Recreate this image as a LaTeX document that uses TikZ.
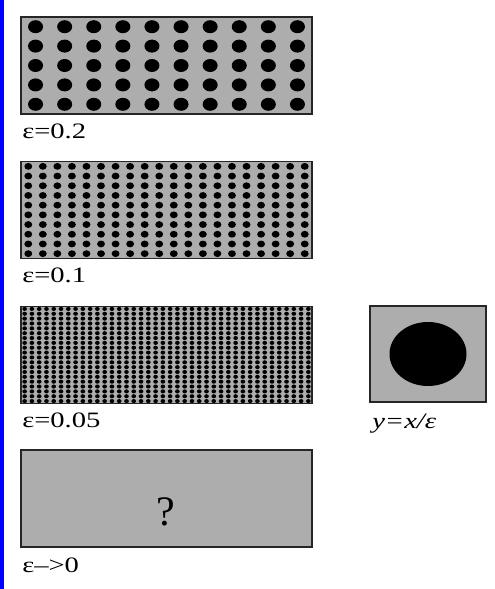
\documentclass[tikz,border=0pt]{standalone}
\usepackage{fontspec}
\setmainfont{Liberation Serif}
\usetikzlibrary{positioning}
\definecolor{grain}{gray}{0.68}
\definecolor{edgeblue}{RGB}{0,0,255}
\tikzset{
  panel/.style={draw=black!85, fill=grain, line width=1.2pt, inner sep=0pt, outer sep=0pt,
                minimum width=291pt, minimum height=97pt},
  lbl/.style={font=\fontsize{22}{26}\selectfont, anchor=base west, inner sep=0pt,
              xscale=1.3, transform shape},
  inc/.style={fill=black},
}

\begin{document}
\begin{tikzpicture}[x=1pt, y=-1pt]
  \useasboundingbox[fill=white] (0,0) rectangle (495,589);
  \fill[edgeblue] (0,0) rectangle (4,589);
  % periodic samples, one per epsilon
  \node[panel] (coarse) at (166.5,65.5) {};
  \node[panel] (medium) at (166.5,210) {};
  \node[panel] (fine) at (166.5,355) {};
  \node[panel] (limit) at (166.5,498.5) {};
  \foreach \pn/\nc/\nr/\f in {coarse/10/5/1, medium/20/10/1.05, fine/40/20/1.25}
    \foreach \i in {1,...,\nc}
      \foreach \j in {1,...,\nr}
        \fill[inc] ([shift={({(\i-0.5)*291/\nc},{(\j-0.5)*97/\nr})}]\pn.north west)
          ellipse [x radius={75pt*\f/\nc}, y radius={32.5pt*\f/\nr}];
  \node[lbl] (lcoarse) at ([shift={(1,24)}]coarse.south west) {ε=0.2};
  \node[lbl] (lmedium) at ([shift={(1,24)}]medium.south west) {ε=0.1};
  \node[lbl] (lfine) at ([shift={(1,24)}]fine.south west) {ε=0.05};
  \node[lbl] (llimit) at ([shift={(1,25)}]limit.south west) {ε–>0};
  \node[font=\fontsize{42}{48}\selectfont, inner sep=0pt] (qmark) at (166,512) {?};
  % unit cell
  \node[panel, minimum width=116pt, minimum height=96pt] (cellbox) at (428,354) {};
  \fill[inc] (cellbox.center) ellipse [x radius=38.5pt, y radius=32pt];
  \node[lbl, font=\fontsize{22}{26}\selectfont\itshape] (lcell) at ([shift={(2,26)}]cellbox.south west) {y=x/ε};
\end{tikzpicture}
\end{document}
